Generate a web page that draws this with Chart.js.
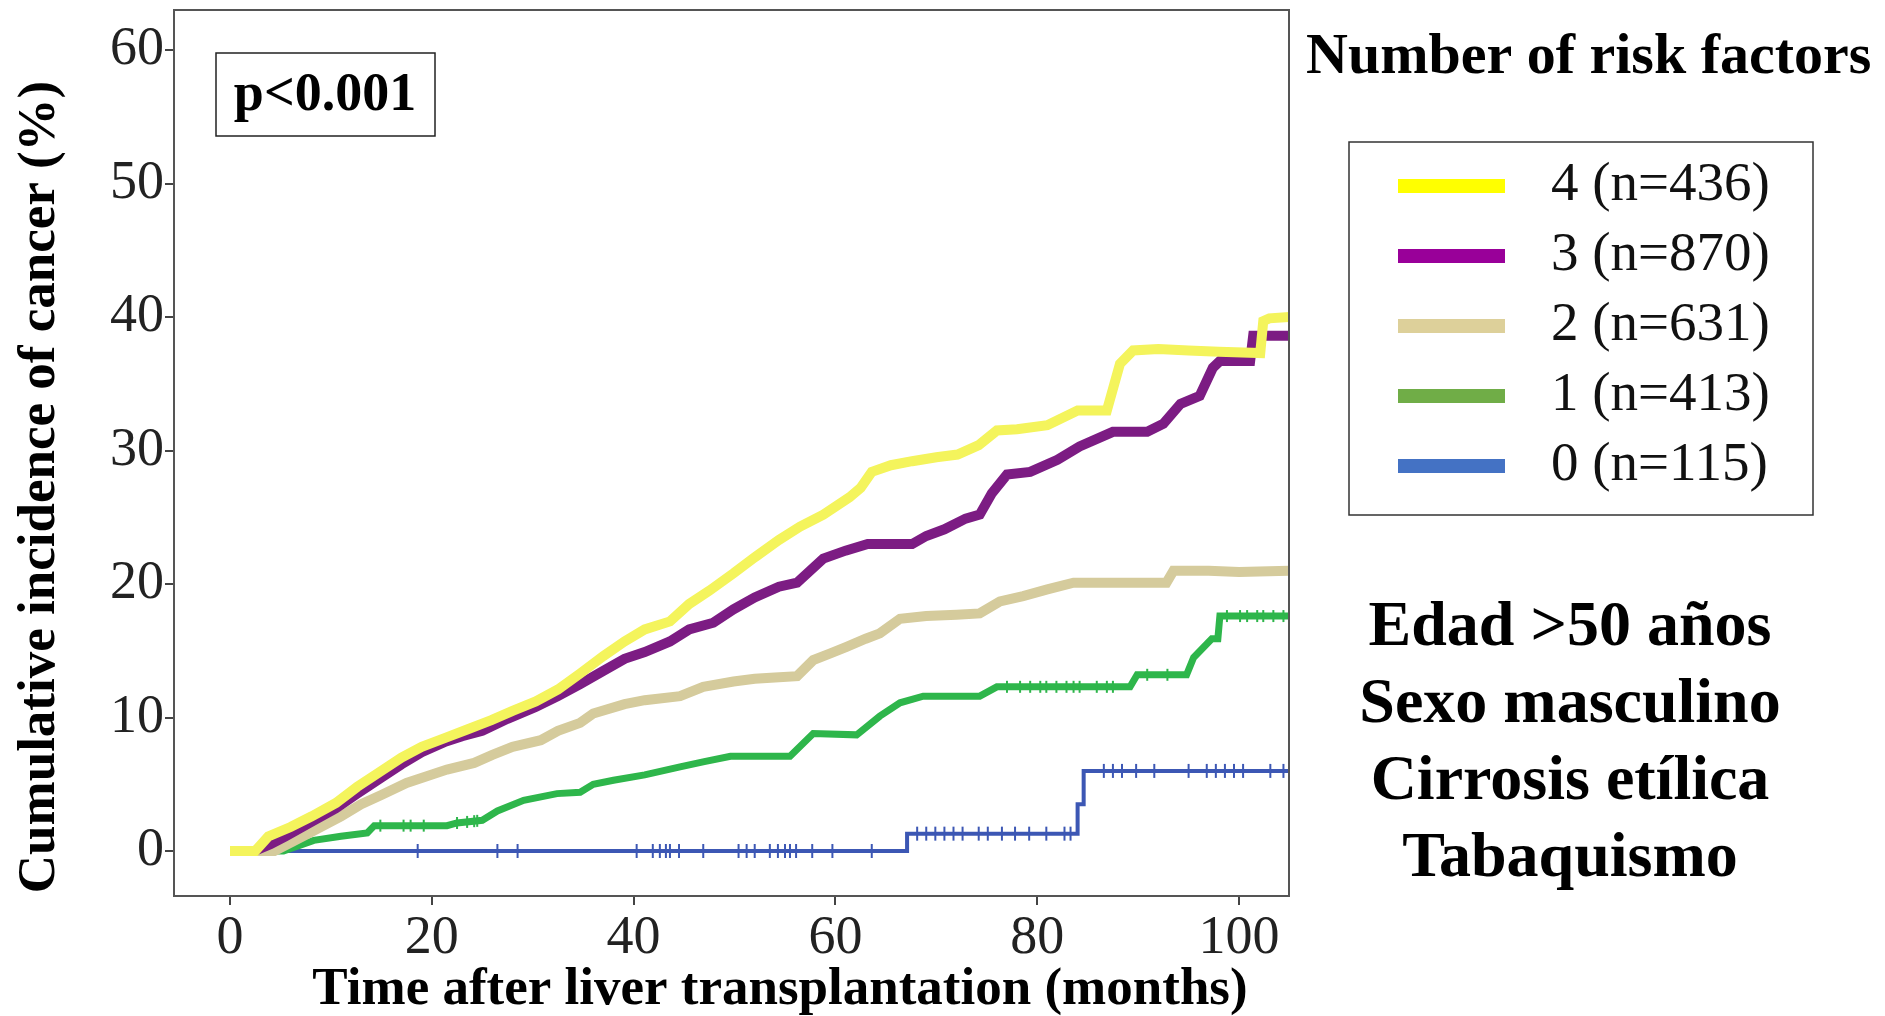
<!DOCTYPE html>
<html>
<head>
<meta charset="utf-8">
<script src="https://cdn.jsdelivr.net/npm/chart.js@4.4.1/dist/chart.umd.min.js"></script>
<style>
  body { margin: 0; background: #fff; }
  canvas { display: block; }
</style>
</head>
<body>
<canvas id="chart" width="1885" height="1016"></canvas>
<script>
// months after transplant / cumulative incidence (%) for each group
const g4Months = [0, 2.5, 3.8, 6, 8.1, 10.5, 12.6, 15, 17, 19, 21.4, 23.5, 25.9, 28, 30.3, 32.5, 34.7, 37, 39.1, 41.1, 43.6, 45.5, 47.5, 49.9, 52, 54.4, 56.5, 58.8, 61.4, 62.5, 63.6, 65.5, 67.6, 70, 72.1, 74.2, 76, 78, 81, 84, 86.9, 88.2, 89.5, 92, 95, 98, 102.1, 102.4, 103, 105];
const g4Values = [0, 0, 1.1, 1.8, 2.6, 3.6, 4.8, 6.0, 7.0, 7.8, 8.5, 9.1, 9.8, 10.5, 11.2, 12.1, 13.3, 14.6, 15.7, 16.6, 17.2, 18.5, 19.5, 20.8, 22.0, 23.3, 24.3, 25.2, 26.5, 27.2, 28.4, 28.9, 29.2, 29.5, 29.7, 30.4, 31.5, 31.6, 31.9, 33.0, 33.0, 36.5, 37.5, 37.6, 37.5, 37.4, 37.3, 39.7, 39.9, 40.0];

const g3Months = [0, 2.4, 4, 5.5, 8.1, 10.5, 12.6, 15, 17, 19, 21.4, 23, 25, 27.5, 30.3, 32.5, 34.7, 37, 39.1, 41.1, 43.6, 45.5, 47.9, 49.9, 52, 54.4, 56.2, 58.8, 61, 63.2, 65.5, 67.6, 69, 70.8, 72.9, 74.3, 75.5, 77, 79.3, 82, 84.2, 87.5, 90.9, 92.5, 94.2, 96.1, 97.4, 98.1, 101.1, 101.4, 103, 105];
const g3Values = [0, 0, 0.5, 1.1, 2.2, 3.2, 4.3, 5.5, 6.5, 7.4, 8.2, 8.6, 9.0, 9.9, 10.8, 11.6, 12.5, 13.5, 14.4, 14.9, 15.7, 16.6, 17.1, 18.1, 19.0, 19.8, 20.1, 21.9, 22.5, 23.0, 23.0, 23.0, 23.6, 24.1, 24.9, 25.2, 26.8, 28.2, 28.4, 29.3, 30.3, 31.4, 31.4, 32.0, 33.5, 34.1, 36.2, 36.7, 36.7, 38.6, 38.6, 38.6];

const g2Months = [0, 4.4, 8, 11, 13, 15, 17.5, 19.5, 21.5, 24.2, 26, 28, 30.8, 32.5, 34.7, 36, 39.1, 41.1, 44.6, 46.9, 49.9, 52, 54, 56.2, 57.8, 59.5, 61.1, 63, 64.4, 66.4, 69, 72, 74.3, 76.3, 78.6, 81, 83.6, 87, 90, 92.8, 93.5, 97, 100, 105];
const g2Values = [0, 0, 1.4, 2.6, 3.5, 4.2, 5.1, 5.6, 6.1, 6.6, 7.2, 7.8, 8.3, 9.0, 9.6, 10.3, 11.0, 11.3, 11.6, 12.3, 12.7, 12.9, 13.0, 13.1, 14.3, 14.8, 15.3, 15.9, 16.3, 17.4, 17.6, 17.7, 17.8, 18.7, 19.1, 19.6, 20.1, 20.1, 20.1, 20.1, 21.0, 21.0, 20.9, 21.0];

const g1Months = [0, 5.3, 8.3, 11, 13.6, 14.3, 21.5, 22.5, 25, 26.5, 29.1, 32.4, 34.7, 36, 38, 41.1, 44.6, 47, 49.6, 55.5, 57.8, 62.1, 64.4, 66.4, 68.7, 74.3, 76, 89.2, 89.9, 94.8, 95.5, 97.3, 97.9, 98.1, 105];
const g1Values = [0, 0, 0.8, 1.1, 1.35, 1.9, 1.9, 2.1, 2.3, 3.0, 3.8, 4.3, 4.4, 5.0, 5.3, 5.7, 6.3, 6.7, 7.1, 7.1, 8.8, 8.7, 10.1, 11.1, 11.6, 11.6, 12.3, 12.3, 13.2, 13.2, 14.5, 15.9, 15.9, 17.6, 17.6];
const g1Censored = [14.9, 17.2, 17.9, 19.2, 22.5, 23.5, 24.2, 24.5, 77, 78.3, 79.3, 80.3, 80.9, 81.9, 82.9, 83.6, 84.2, 85.9, 86.9, 87.5, 90.9, 92.9, 98.8, 100.1, 100.8, 101.8, 102.4, 103.4, 104.4];

const g0Months = [0, 67.1, 84.0, 84.6, 105];
const g0Values = [0, 1.3, 3.5, 6.0, 6.0];
const g0Censored = [18.6, 26.5, 28.5, 40.3, 41.9, 42.6, 43.2, 43.6, 44.5, 46.9, 50.4, 51.2, 52, 53.5, 54.3, 55, 55.5, 56.1, 57.7, 59.7, 63.6, 68.1, 69, 69.9, 70.8, 71.7, 72.6, 74.2, 75.1, 76.5, 77.8, 79.2, 80.9, 82.7, 83.3, 86.6, 87.5, 88.4, 89.8, 91.6, 95, 96.8, 97.7, 98.6, 99.5, 100.4, 103.1, 104.4];

const groupLabels = ['4 (n=436)', '3 (n=870)', '2 (n=631)', '1 (n=413)', '0 (n=115)'];
const lineColors = ['#f4f45c', '#7c1c83', '#d5cb9c', '#2eb64b', '#3c57b4'];
const legendColors = ['#ffff00', '#990099', '#ddd09a', '#70ad47', '#4472c4'];

const xTicks = [0, 20, 40, 60, 80, 100];
const yTicks = [0, 10, 20, 30, 40, 50, 60];

const xTitle = 'Time after liver transplantation (months)';
const yTitle = 'Cumulative incidence of cancer (%)';
const riskFactors = ['Edad >50 años', 'Sexo masculino', 'Cirrosis etílica', 'Tabaquismo'];

const serif = '"Liberation Serif", "Times New Roman", serif';

const toPoints = (xs, ys) => xs.map((x, i) => ({ x: x, y: ys[i] }));
// value of a step curve at time t
const stepAt = (xs, ys, t) => {
  let v = ys[0];
  xs.forEach((x, i) => { if (x <= t) v = ys[i]; });
  return v;
};
// value of a straight-segment curve at time t
const lineAt = (xs, ys, t) => {
  for (let i = 1; i < xs.length; i++) {
    if (t <= xs[i]) return ys[i - 1] + (ys[i] - ys[i - 1]) * (t - xs[i - 1]) / (xs[i] - xs[i - 1]);
  }
  return ys[ys.length - 1];
};

const curve = (data, color, width, stepped) => ({
  data: data,
  borderColor: color,
  borderWidth: width,
  pointRadius: 0,
  stepped: stepped,
  tension: 0,
  fill: false
});

const marks = (data, color, radius) => ({
  type: 'scatter',
  data: data,
  pointStyle: 'line',
  rotation: 90,
  pointRadius: radius,
  borderColor: color,
  pointBorderWidth: 2,
  showLine: false
});

// frame, axis titles, p-value box, legend and the risk factor list
const extras = {
  id: 'extras',
  afterDraw(chart) {
    const ctx = chart.ctx;
    const a = chart.chartArea;
    ctx.save();
    ctx.strokeStyle = '#555';
    ctx.lineWidth = 2;
    ctx.strokeRect(a.left, a.top, a.right - a.left, a.bottom - a.top);

    ctx.fillStyle = '#000';
    ctx.textBaseline = 'middle';
    ctx.textAlign = 'center';
    ctx.font = 'bold 53px ' + serif;
    ctx.fillText(xTitle, 780, 990);
    ctx.save();
    ctx.translate(40, 487);
    ctx.rotate(-Math.PI / 2);
    ctx.fillText(yTitle, 0, 0);
    ctx.restore();

    ctx.strokeStyle = '#222';
    ctx.lineWidth = 1.5;
    ctx.strokeRect(216, 53, 219, 83);
    ctx.font = 'bold 54px ' + serif;
    ctx.fillText('p<0.001', 325, 96);

    ctx.textAlign = 'left';
    ctx.font = 'bold 58px ' + serif;
    ctx.fillText('Number of risk factors', 1306, 58);

    ctx.strokeStyle = '#333';
    ctx.lineWidth = 1.5;
    ctx.strokeRect(1349, 142, 464, 373);
    ctx.font = '55px ' + serif;
    groupLabels.forEach((label, i) => {
      const y = 186 + i * 70;
      ctx.fillStyle = legendColors[i];
      ctx.fillRect(1398, y - 7, 107, 14);
      ctx.fillStyle = '#111';
      ctx.fillText(label, 1551, y);
    });

    ctx.textAlign = 'center';
    ctx.fillStyle = '#000';
    ctx.font = 'bold 64px ' + serif;
    riskFactors.forEach((t, i) => ctx.fillText(t, 1570, 628 + i * 77));
    ctx.restore();
  }
};

new Chart(document.getElementById('chart'), {
  type: 'line',
  data: {
    datasets: [
      curve(toPoints(g4Months, g4Values), lineColors[0], 10, false),
      curve(toPoints(g3Months, g3Values), lineColors[1], 10, false),
      curve(toPoints(g2Months, g2Values), lineColors[2], 10, false),
      marks(g1Censored.map(t => ({ x: t, y: lineAt(g1Months, g1Values, t) })), lineColors[3], 6),
      curve(toPoints(g1Months, g1Values), lineColors[3], 7, false),
      marks(g0Censored.map(t => ({ x: t, y: stepAt(g0Months, g0Values, t) })), lineColors[4], 7),
      curve(toPoints(g0Months, g0Values), lineColors[4], 4, 'before')
    ]
  },
  options: {
    responsive: false,
    animation: false,
    events: [],
    layout: { padding: { left: 0, right: 596, top: 10, bottom: 0 } },
    plugins: { legend: { display: false }, tooltip: { enabled: false } },
    scales: {
      x: {
        type: 'linear',
        min: -5.55,
        max: 104.95,
        afterBuildTicks: s => { s.ticks = xTicks.map(v => ({ value: v })); },
        afterFit: s => { s.height = 120; s.paddingLeft = 0; s.paddingRight = 0; },
        grid: { drawOnChartArea: false, tickLength: 9, color: '#444', lineWidth: 2 },
        border: { color: '#555', width: 2 },
        ticks: { autoSkip: false, maxRotation: 0, padding: 1, color: '#222', font: { family: serif, size: 54 } }
      },
      y: {
        type: 'linear',
        min: -3.37,
        max: 63.0,
        afterBuildTicks: s => { s.ticks = yTicks.map(v => ({ value: v })); },
        afterFit: s => { s.width = 174; s.paddingTop = 0; s.paddingBottom = 0; },
        grid: { drawOnChartArea: false, tickLength: 9, color: '#444', lineWidth: 2 },
        border: { color: '#555', width: 2 },
        ticks: { autoSkip: false, padding: 1, color: '#222', font: { family: serif, size: 54 } }
      }
    }
  },
  plugins: [extras]
});
</script>
</body>
</html>
